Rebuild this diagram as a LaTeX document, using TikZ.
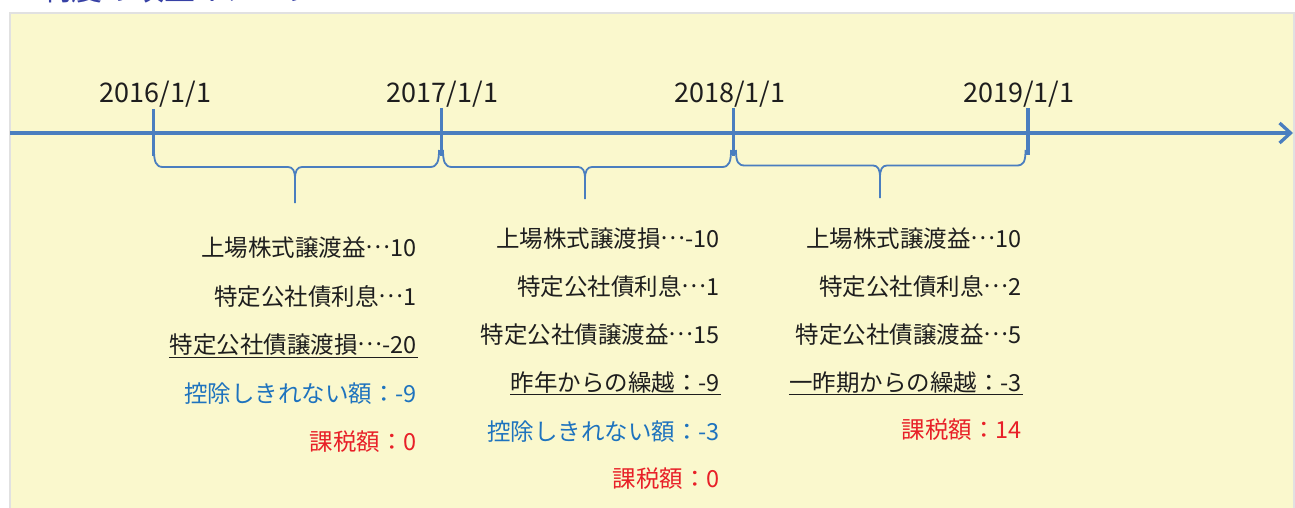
\documentclass[tikz,border=0pt]{standalone}
\usepackage{fontspec}
\setmainfont{Noto Sans CJK JP}
\usetikzlibrary{arrows.meta}
\definecolor{bgY}{RGB}{250,248,205}
\definecolor{axisB}{RGB}{74,126,191}
\definecolor{txtK}{RGB}{30,30,30}
\definecolor{txtB}{RGB}{30,115,190}
\definecolor{txtR}{RGB}{232,32,40}
\definecolor{titleB}{RGB}{55,65,165}
\definecolor{frameG}{RGB}{225,225,225}
\newcommand{\mdots}{\raisebox{0.3em}{…}}
\newcommand{\tlbrace}[5]{%
  \draw[bracepath] (#1,150) .. controls (#1,162) and (#1+2,#4) .. (#1+9,#4) -- (#3-7,#4) .. controls (#3-2,#4) and (#3,#4+4) .. (#3,#4+12) -- (#3,#5);
  \draw[bracepath] (#3,#4+12) .. controls (#3,#4+4) and (#3+2,#4) .. (#3+7,#4) -- (#2-9,#4) .. controls (#2-2,#4) and (#2,162) .. (#2,150);}
\begin{document}
\begin{tikzpicture}[x=1pt,y=-1pt,
  txt/.style={font=\fontsize{23.5}{23.5}\selectfont, text=txtK, anchor=base east, inner sep=0pt},
  bluetxt/.style={txt, text=txtB},
  redtxt/.style={txt, text=txtR},
  datelbl/.style={font=\fontsize{27}{27}\selectfont, text=txtK, anchor=base, inner sep=0pt},
  axisline/.style={draw=axisB, line width=3.3pt},
  tickline/.style={draw=axisB, line width=3.6pt},
  bracepath/.style={draw=axisB, line width=1.8pt},
  uline/.style={draw=txtK, line width=1.7pt}]
\useasboundingbox (0,0) rectangle (1295,508);
% background panel
\fill[bgY] (10,13) rectangle (1294,512);
\draw[frameG, line width=1.5pt] (10,515) -- (10,13) -- (1294,13) -- (1294,515);
% cut-off title
\begin{scope}
  \clip (0,0) rectangle (1295,12);
  \node[font=\fontsize{31}{31}\selectfont, text=titleB, anchor=base west, inner sep=0pt] (title) at (40,1) {制度の改正イメージ};
\end{scope}
% axis
\coordinate (axL) at (10,133);
\coordinate (axR) at (1293,133);
\draw[axisline, -{Straight Barb[length=11pt,width=20pt,line width=3.3pt]}] (axL) -- (axR);
% ticks
\coordinate (t1a) at (153.5,109); \coordinate (t1b) at (153.5,156);
\coordinate (t2a) at (441.5,108); \coordinate (t2b) at (441.5,156);
\coordinate (t3a) at (733.5,108); \coordinate (t3b) at (733.5,156);
\coordinate (t4a) at (1028,108); \coordinate (t4b) at (1028,155);
\draw[tickline] (t1a) -- (t1b);
\draw[tickline] (t2a) -- (t2b);
\draw[tickline] (t3a) -- (t3b);
\draw[tickline] (t4a) -- (t4b);
% dates
\node[datelbl] (d1) at (155.5,103) {2016/1/1};
\node[datelbl] (d2) at (442.5,103) {2017/1/1};
\node[datelbl] (d3) at (730,103) {2018/1/1};
\node[datelbl] (d4) at (1019,103) {2019/1/1};
% braces
\tlbrace{154}{439}{295}{167}{203}
\tlbrace{443}{731}{585}{167}{199}
\tlbrace{736}{1025.5}{880}{165.5}{198}
% block 1
\node[txt] (a1) at (417,256) {上場株式譲渡益\mdots10};
\node[txt] (a2) at (417,305) {特定公社債利息\mdots1};
\node[txt] (a3) at (417,353) {特定公社債譲渡損\mdots-20};
\node[bluetxt] (a4) at (417,402) {控除しきれない額：-9};
\node[redtxt] (a5) at (417,450) {課税額：0};
\draw[uline] ([yshift=-4.5pt]a3.base west) -- ([yshift=-4.5pt,xshift=1pt]a3.base east);
% block 2
\node[txt] (b1) at (720,247) {上場株式譲渡損\mdots-10};
\node[txt] (b2) at (720,295) {特定公社債利息\mdots1};
\node[txt] (b3) at (720,343) {特定公社債譲渡益\mdots15};
\node[txt] (b4) at (720,391) {昨年からの繰越：-9};
\node[bluetxt] (b5) at (720,440) {控除しきれない額：-3};
\node[redtxt] (b6) at (720,487) {課税額：0};
\draw[uline] ([yshift=-3.5pt]b4.base west) -- ([yshift=-3.5pt,xshift=1pt]b4.base east);
% block 3
\node[txt] (c1) at (1022,247) {上場株式譲渡益\mdots10};
\node[txt] (c2) at (1022,295) {特定公社債利息\mdots2};
\node[txt] (c3) at (1022,343) {特定公社債譲渡益\mdots5};
\node[txt] (c4) at (1022,391) {一昨期からの繰越：-3};
\node[redtxt] (c5) at (1022,438) {課税額：14};
\draw[uline] ([yshift=-3.5pt]c4.base west) -- ([yshift=-3.5pt,xshift=1pt]c4.base east);
\end{tikzpicture}
\end{document}
